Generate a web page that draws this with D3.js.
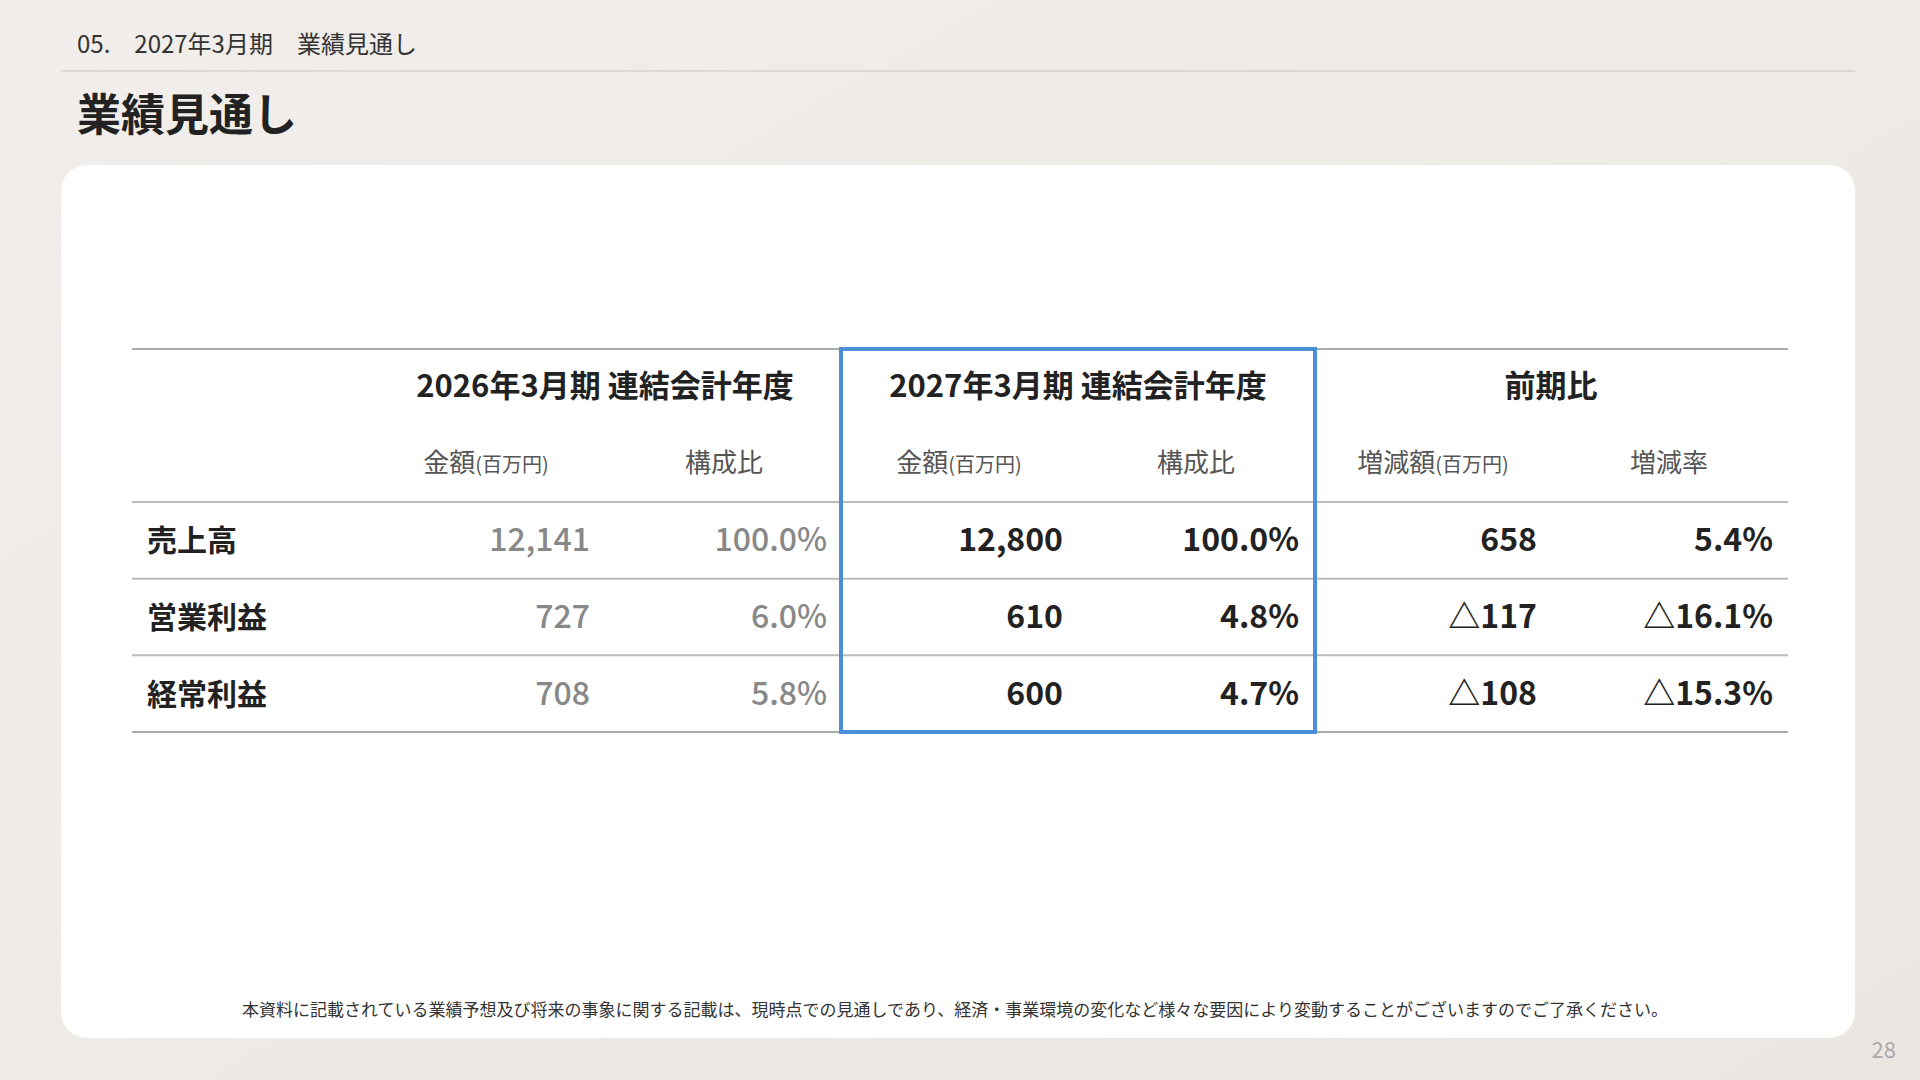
<!DOCTYPE html>
<html><head><meta charset="utf-8">
<script src="https://cdn.jsdelivr.net/npm/d3@7"></script>
<style>body{margin:0;background:#efebe7;}svg{display:block;font-family:"Noto Sans CJK JP","Noto Sans",sans-serif;}</style>
</head><body>
<script>
const rowLabels = ["売上高","営業利益","経常利益"];
const prevAmount = ["12,141","727","708"];
const prevRatio = ["100.0%","6.0%","5.8%"];
const nextAmount = ["12,800","610","600"];
const nextRatio = ["100.0%","4.8%","4.7%"];
const diffAmount = ["658","△117","△108"];
const diffRate = ["5.4%","△16.1%","△15.3%"];
const groupHeaders = ["2026年3月期 連結会計年度","2027年3月期 連結会計年度","前期比"];
const subHeaders = [["金額","(百万円)"],["構成比",""],["金額","(百万円)"],["構成比",""],["増減額","(百万円)"],["増減率",""]];
const columns = [prevAmount, prevRatio, nextAmount, nextRatio, diffAmount, diffRate];

const W=1920,H=1080;
const svg=d3.select("body").append("svg").attr("width",W).attr("height",H);
const defs=svg.append("defs");
const g=defs.append("linearGradient").attr("id","bg").attr("x1",0).attr("y1",0).attr("x2",1).attr("y2",1);
g.append("stop").attr("offset",0).attr("stop-color","#f1eeeb");
g.append("stop").attr("offset",1).attr("stop-color","#ebe6e1");
svg.append("rect").attr("width",W).attr("height",H).attr("fill","url(#bg)");

svg.append("text").attr("x",77).attr("y",53).attr("font-size",24).attr("fill","#333").text("05.　2027年3月期　業績見通し");
svg.append("line").attr("x1",61).attr("x2",1855).attr("y1",71).attr("y2",71).attr("stroke","#c8c4c0").attr("stroke-width",1);
svg.append("text").attr("x",77).attr("y",131).attr("font-size",44).attr("font-weight",700).attr("fill","#222").text("業績見通し");
svg.append("rect").attr("x",61).attr("y",165).attr("width",1794).attr("height",873).attr("rx",26).attr("fill","#fff");

// scales
const colX = d3.scaleBand().domain(d3.range(6)).range([353,1790]).paddingInner(0);
const rowY = d3.scaleBand().domain(d3.range(3)).range([502,732]);
const groupX = d3.scaleBand().domain(d3.range(3)).range([367,1790]);

// lines
const lineYs=[349,502,rowY(1),rowY(2),732];
lineYs.forEach((y,i)=>svg.append("line").attr("x1",132).attr("x2",1788).attr("y1",y).attr("y2",y)
  .attr("stroke",i===0||i===4?"#aaa":"#bbb").attr("stroke-width",2));

svg.selectAll(".gh").data(groupHeaders).join("text")
  .attr("x",(d,i)=>[605,1078,1551][i]).attr("y",397).attr("text-anchor","middle")
  .attr("font-size",31).attr("font-weight",700).attr("fill","#222").text(d=>d);

const subC=[486,724,959,1196,1433,1669];
subHeaders.forEach((s,i)=>{
  const t=svg.append("text").attr("x",subC[i]).attr("y",472).attr("text-anchor","middle").attr("fill","#555").attr("font-size",26);
  t.append("tspan").text(s[0]);
  if(s[1]) t.append("tspan").attr("font-size",20).text(s[1]);
});

const rightX=[590,827,1063,1299,1537,1773];
rowLabels.forEach((r,ri)=>{
  const cy=rowY(ri)+rowY.bandwidth()/2+11;
  svg.append("text").attr("x",147).attr("y",cy).attr("font-size",30).attr("font-weight",700).attr("fill","#222").text(r);
  columns.forEach((col,ci)=>{
    svg.append("text").attr("x",rightX[ci]).attr("y",cy).attr("text-anchor","end").attr("font-size",32)
      .attr("font-weight",ci<2?500:600).attr("fill",ci<2?"#888":"#222").text(col[ri]);
  });
});

svg.append("rect").attr("x",841).attr("y",349).attr("width",474).attr("height",383)
  .attr("fill","none").attr("stroke","#4a90d9").attr("stroke-width",4);

svg.append("text").attr("x",955).attr("y",1016).attr("text-anchor","middle").attr("font-size",17).attr("fill","#333")
  .text("本資料に記載されている業績予想及び将来の事象に関する記載は、現時点での見通しであり、経済・事業環境の変化など様々な要因により変動することがございますのでご了承ください。");
svg.append("text").attr("x",1896).attr("y",1058).attr("text-anchor","end").attr("font-size",22).attr("fill","#aaa").text("28");
</script>
</body></html>
